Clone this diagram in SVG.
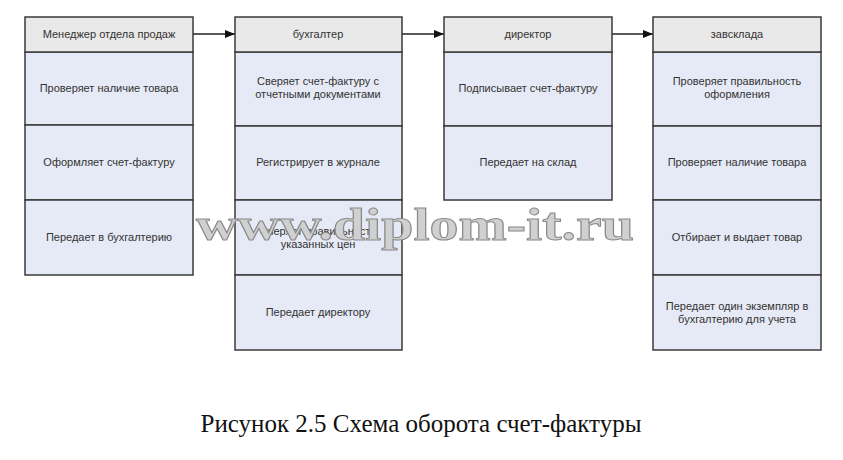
<svg xmlns="http://www.w3.org/2000/svg" width="843" height="460" viewBox="0 0 843 460">
<style>
.hd{fill:#e9e9e9;stroke:#3a3a3a;stroke-width:1.5}
.rw{fill:#e6eaf6;stroke:#3a3a3a;stroke-width:1.5}
.t{font-family:"Liberation Sans",Arial,sans-serif;font-size:11px;fill:#333;text-anchor:middle}
.cn{stroke:#222;stroke-width:1.3;fill:none;marker-end:url(#ah)}
.wm{font-family:"Liberation Serif","DejaVu Serif",serif;font-size:46px;font-weight:bold;fill:#d0d0d0;stroke:#8a8a8a;stroke-width:1}
.cap{font-family:"Liberation Serif","Times New Roman",serif;font-size:25px;fill:#111;text-anchor:middle}
</style>
<defs>
<marker id="ah" viewBox="0 0 10 10" refX="10" refY="5" markerWidth="10" markerHeight="10" markerUnits="userSpaceOnUse" orient="auto">
<path d="M0,1 L10,5 L0,9 Z" fill="#111"/>
</marker>
</defs>
<rect width="843" height="460" fill="#fff"/>
<g id="connectors">
<line class="cn" x1="193" y1="34" x2="235" y2="34"/>
<line class="cn" x1="402" y1="34" x2="444" y2="34"/>
<line class="cn" x1="612" y1="34" x2="653" y2="34"/>
</g>
<g id="manager">
<rect class="rw" x="25" y="52" width="168" height="73"/>
<rect class="rw" x="25" y="125" width="168" height="75"/>
<rect class="rw" x="25" y="200" width="168" height="75"/>
<rect class="hd" x="25" y="17" width="168" height="35"/>
<text class="t" x="109" y="38">Менеджер отдела продаж</text>
<text class="t" x="109" y="92">Проверяет наличие товара</text>
<text class="t" x="109" y="166">Оформляет счет-фактуру</text>
<text class="t" x="109" y="241">Передает в бухгалтерию</text>
</g>
<g id="accountant">
<rect class="rw" x="235" y="52" width="167" height="74"/>
<rect class="rw" x="235" y="126" width="167" height="74"/>
<rect class="rw" x="235" y="200" width="167" height="75"/>
<rect class="rw" x="235" y="275" width="167" height="75"/>
<rect class="hd" x="235" y="17" width="167" height="35"/>
<text class="t" x="318" y="38">бухгалтер</text>
<text class="t" x="318" y="85">Сверяет счет-фактуру с</text>
<text class="t" x="318" y="98">отчетными документами</text>
<text class="t" x="318" y="166">Регистрирует в журнале</text>
<text class="t" x="318" y="235">Сверяет правильность</text>
<text class="t" x="318" y="248">указанных цен</text>
<text class="t" x="318" y="316">Передает директору</text>
</g>
<g id="director">
<rect class="rw" x="444" y="52" width="168" height="74"/>
<rect class="rw" x="444" y="126" width="168" height="74"/>
<rect class="hd" x="444" y="17" width="168" height="35"/>
<text class="t" x="528" y="38">директор</text>
<text class="t" x="528" y="92">Подписывает счет-фактуру</text>
<text class="t" x="528" y="166">Передает на склад</text>
</g>
<g id="warehouse">
<rect class="rw" x="653" y="52" width="168" height="74"/>
<rect class="rw" x="653" y="126" width="168" height="74"/>
<rect class="rw" x="653" y="200" width="168" height="75"/>
<rect class="rw" x="653" y="275" width="168" height="75"/>
<rect class="hd" x="653" y="17" width="168" height="35"/>
<text class="t" x="737" y="38">завсклада</text>
<text class="t" x="737" y="85">Проверяет правильность</text>
<text class="t" x="737" y="98">оформления</text>
<text class="t" x="737" y="166">Проверяет наличие товара</text>
<text class="t" x="737" y="241">Отбирает и выдает товар</text>
<text class="t" x="737" y="310">Передает один экземпляр в</text>
<text class="t" x="737" y="323">бухгалтерию для учета</text>
</g>
<text class="wm" x="196" y="240" textLength="438" lengthAdjust="spacingAndGlyphs">www.diplom-it.ru</text>
<text class="cap" x="421" y="432">Рисунок 2.5 Схема оборота счет-фактуры</text>
</svg>
